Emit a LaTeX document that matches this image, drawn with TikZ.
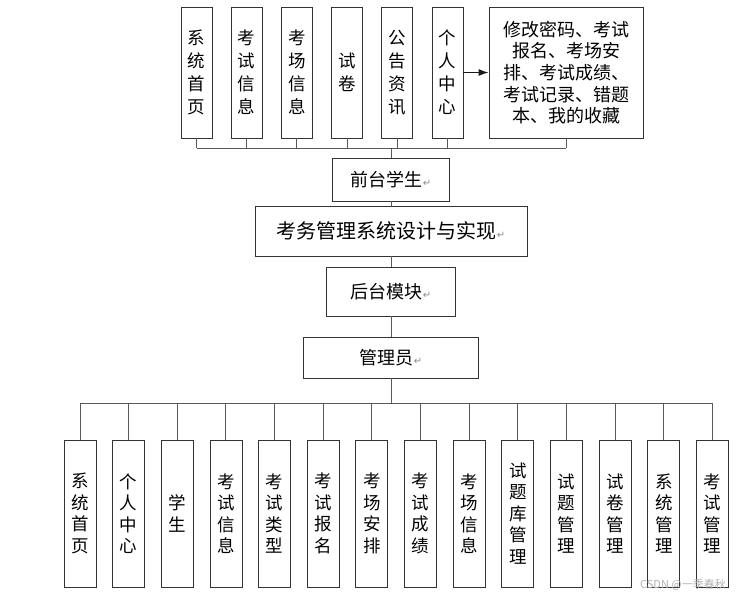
\documentclass[tikz,border=0pt]{standalone}
\usepackage{fontspec}
\newfontfamily\cjk{Noto Sans CJK SC}
\newfontfamily\symb{DejaVu Sans}
\usetikzlibrary{arrows.meta}

% paragraph mark after the middle labels
\newcommand{\pmark}{{\symb\fontsize{10}{10}\selectfont\color{black!45}↵}}

\tikzset{
  modbox/.style={draw=black!80, line width=0.9pt, fill=white, inner sep=0pt,
    font=\cjk\fontsize{17.5}{23}\selectfont, align=center},
  wire/.style={draw=black!65, line width=1pt},
}

\begin{document}
\begin{tikzpicture}[x=1pt,y=-1pt,>={Latex[length=10pt,width=7pt]}]
\useasboundingbox (0,0) rectangle (744,598);

% Front modules
\foreach \t [count=\i from 0] in {{系\\统\\首\\页},{考\\试\\信\\息},{考\\场\\信\\息},{试\\卷},{公\\告\\资\\讯},{个\\人\\中\\心}} {
  \node[modbox, minimum width=31, minimum height=131] (top\i) at (196.5+50.2*\i,72.5) {\t};
}

% Personal center details
\node[modbox, minimum width=154, minimum height=131, font=\cjk\fontsize{18}{21.7}\selectfont] (more) at (566,72.5)
  {修改密码、考试\\报名、考场安\\排、考试成绩、\\考试记录、错题\\本、我的收藏};
\draw[wire,draw=black!90,->] (top5.east) -- (more.west);

% Middle chain
\node[modbox, minimum width=117, minimum height=43, font=\cjk\fontsize{18}{20}\selectfont] (front) at (391,179.5) {前台学生\pmark};
\node[modbox, minimum width=272, minimum height=50, font=\cjk\fontsize{20}{20}\selectfont] (sys) at (391,231) {考务管理系统设计与实现\pmark};
\node[modbox, minimum width=129, minimum height=49, font=\cjk\fontsize{18}{20}\selectfont] (back) at (391,291.5) {后台模块\pmark};
\node[modbox, minimum width=175, minimum height=41, font=\cjk\fontsize{18}{20}\selectfont] (admin) at (391,357.5) {管理员\pmark};

% Top bus
\coordinate (tbus) at (391,148);
\draw[wire] (top0.south |- tbus) -- (more.south |- tbus);
\foreach \i in {0,...,5} {
  \draw[wire] (top\i.south) -- (top\i.south |- tbus);
}
\draw[wire] (more.south) -- (more.south |- tbus);
\draw[wire] (tbus) -- (front.north);
\draw[wire] (front) -- (sys);
\draw[wire] (sys) -- (back);
\draw[wire] (back) -- (admin);

% Admin modules
\foreach \t [count=\i from 0] in {{系\\统\\首\\页},{个\\人\\中\\心},{学\\生},{考\\试\\信\\息},{考\\试\\类\\型},{考\\试\\报\\名},{考\\场\\安\\排},{考\\试\\成\\绩},{考\\场\\信\\息},{试\\题\\库\\管\\理},{试\\题\\管\\理},{试\\卷\\管\\理},{系\\统\\管\\理},{考\\试\\管\\理}} {
  \node[modbox, minimum width=32, minimum height=147, font=\cjk\fontsize{17.5}{21.5}\selectfont] (low\i) at (80+48.65*\i,513.5) {\t};
}

% Bottom bus
\coordinate (bbus) at (391,403);
\draw[wire] (admin) -- (bbus);
\draw[wire] (low0.north |- bbus) -- (low13.north |- bbus);
\foreach \i in {0,...,13} {
  \draw[wire] (low\i.north) -- (low\i.north |- bbus);
}

% Watermark
\node[font=\cjk\fontsize{11}{11}\selectfont, text=black!30] (mark) at (683,585) {CSDN @一季春秋};

\end{tikzpicture}
\end{document}
